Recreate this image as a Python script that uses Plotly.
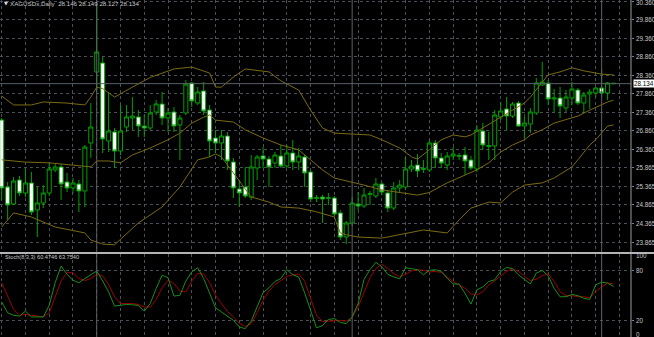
import plotly.graph_objects as go

# ---------------- data ----------------
bar_index = list(range(104))
opens = [27.154,25.348,24.890,25.537,25.187,25.456,24.729,24.917,25.187,25.807,
         25.887,25.483,25.321,25.429,25.241,26.534,28.448,28.690,26.588,26.831,
         26.319,26.965,27.208,27.235,26.992,26.938,27.370,27.585,27.208,27.370,
         27.019,27.343,28.151,27.612,27.936,27.424,26.669,26.534,26.723,26.022,
         25.294,25.348,25.079,25.860,26.184,26.103,25.995,26.184,25.914,26.265,
         26.022,26.157,25.753,25.040,25.079,25.040,25.052,24.648,24.001,24.378,
         24.890,24.836,25.150,25.106,25.429,25.187,24.782,25.321,25.348,25.834,
         25.941,25.820,25.807,26.534,26.130,25.941,26.184,26.175,26.211,26.076,
         25.834,26.857,26.440,26.453,27.235,27.451,27.262,27.612,26.992,27.046,
         27.343,28.097,28.151,27.720,27.747,27.477,27.747,27.963,27.612,27.855,
         27.882,28.016,27.882,28.146]
highs = [27.208,25.483,25.618,25.645,25.860,25.753,25.348,25.402,25.995,25.995,
         25.968,25.726,25.591,25.537,26.480,27.612,30.226,28.852,27.909,26.939,
         27.558,27.558,27.774,27.424,27.289,27.558,27.693,27.909,27.477,27.504,
         27.289,28.232,28.178,28.043,28.178,27.558,26.885,26.885,26.831,26.130,
         25.537,25.888,26.211,26.211,26.426,26.184,26.292,26.480,26.480,26.615,
         26.399,26.211,25.807,25.133,25.133,25.187,25.106,24.729,24.432,25.079,
         25.214,25.321,25.241,25.591,25.483,25.268,25.483,25.537,26.157,26.076,
         26.238,26.076,26.615,26.615,26.265,26.292,26.426,26.265,26.426,26.184,
         27.019,27.073,26.831,27.424,27.639,27.774,27.639,27.666,27.235,27.477,
         28.286,28.717,28.232,27.990,28.043,27.963,28.178,28.016,27.909,27.990,
         28.043,28.528,28.178,28.149]
lows = [24.998,24.459,24.860,25.106,25.080,24.594,24.001,24.780,25.106,25.753,
        24.998,25.214,25.187,24.675,24.809,26.130,27.963,26.265,26.292,25.860,
        26.211,26.831,26.885,26.696,26.696,26.885,27.289,27.019,26.831,26.831,
        26.076,27.289,27.504,27.558,27.289,26.157,26.265,26.076,25.807,25.052,
        24.809,25.052,24.998,25.537,25.860,25.348,25.860,25.860,25.860,25.807,
        25.807,25.348,24.944,24.944,24.378,24.863,24.567,23.920,23.812,24.298,
        24.729,24.782,24.863,25.052,25.133,24.675,24.729,25.214,25.268,25.753,
        25.618,25.726,25.753,25.860,25.860,25.807,26.076,26.076,25.672,25.807,
        25.753,26.346,26.076,26.076,27.154,26.885,27.208,26.965,26.669,26.804,
        27.289,28.070,27.558,27.370,27.208,27.370,27.558,27.558,27.343,27.451,
        27.774,27.774,27.693,28.127]
closes = [25.321,24.863,25.510,25.187,25.456,24.675,24.917,25.187,25.834,25.887,
          25.429,25.321,25.456,25.241,26.426,26.965,28.987,26.642,26.857,26.319,
          26.857,27.235,27.262,26.992,26.938,27.343,27.585,27.208,27.343,26.992,
          27.208,28.124,27.666,27.909,27.397,26.588,26.534,26.723,26.049,25.321,
          25.187,25.106,25.887,26.157,26.103,25.887,26.211,25.914,26.265,26.022,
          26.184,25.726,25.025,25.060,25.025,25.060,24.621,24.001,24.378,24.917,
          24.836,25.133,25.170,25.429,25.214,24.782,25.321,25.402,25.834,25.914,
          25.780,25.850,26.534,26.130,25.995,26.184,26.238,26.195,26.049,25.860,
          26.885,26.480,26.465,27.289,27.397,27.262,27.585,26.992,27.073,27.370,
          28.151,28.178,27.720,27.747,27.531,27.774,27.990,27.612,27.828,27.909,
          28.016,27.882,28.151,28.134]

bb_upper_idx = [0,2,5,7,11,14,15,16,17,19,22,25,29,32,35,36,37,39,41,45,47,50,52,54,56,
                59,62,64,67,69,70,72,74,76,78,79,81,83,86,88,89,91,92,94,96,98,101,103]
bb_upper_val = [27.80,27.56,27.56,27.64,27.61,27.56,27.77,28.04,28.00,27.77,28.04,28.30,
                28.53,28.58,28.42,28.04,28.04,28.31,28.53,28.45,28.21,27.96,27.42,26.94,
                26.80,26.78,26.75,26.62,26.40,26.16,26.10,26.35,26.62,26.75,26.70,26.75,
                26.94,27.15,27.42,27.61,27.77,28.18,28.37,28.45,28.56,28.48,28.39,28.37]

bb_mid_idx = [0,4,8,12,15,16,18,20,22,25,28,30,32,34,35,36,39,41,44,47,50,52,54,56,59,
              61,64,67,70,72,75,78,80,82,84,86,88,89,91,93,96,97,99,102,103]
bb_mid_val = [26.08,26.02,26.00,25.94,25.89,26.05,26.05,26.00,26.21,26.40,26.62,26.80,
              27.07,27.23,27.29,27.15,27.10,26.89,26.67,26.48,26.35,26.08,25.81,25.59,
              25.48,25.40,25.27,25.19,25.13,25.20,25.46,25.67,25.81,26.00,26.29,26.48,
              26.62,26.75,26.89,27.07,27.21,27.26,27.42,27.64,27.69]

bb_low_idx = [0,2,5,9,14,15,17,19,23,27,30,33,35,36,37,39,41,42,45,47,50,53,56,57,58,
              60,64,67,71,75,77,79,82,84,86,88,91,93,96,97,99,100,101,102,103]
bb_low_val = [24.27,24.65,24.54,24.27,24.11,23.92,23.81,23.79,24.38,24.81,25.35,26.08,
              26.16,26.24,26.16,25.73,25.27,25.08,24.94,24.81,24.78,24.68,24.54,24.11,
              24.06,24.00,23.97,24.06,24.19,24.11,24.46,24.78,24.94,24.92,25.21,25.40,
              25.46,25.59,25.89,26.08,26.48,26.62,26.80,26.99,27.02]

stoch_k = [42,29,26,25,31,24,24,24,38,65,85,75,68,65,70,74,79,67,54,37,
           38,39,38.5,38,31,40,58,74,71,49,50,67,78,83,70,53,35,30,25,20,
           12,10,19,36,53,59,66.5,70,80.6,74.5,72,53,31,11,13.6,21,22,17.5,16,24,
           40,69,80.6,89.5,84,75,72,69.7,83,82,80.6,74.5,79.8,80.6,78.5,70.5,63.6,63.3,52.3,39.4,
           56.4,60,66.5,68.5,78.5,83.4,81.8,74.5,69.3,63.6,76.6,79.8,73.3,58.4,48.2,48.2,51,49.5,46.3,45,
           62.4,65.7,64.5,60.47]
stoch_d = [65,48,33,26,27,26,25,24,29,47,67,77,77,70,67.6,70,75,73,63,48,
           40,40,40,39,36,36,45,59,68,64,55,54,67,76,75.5,65,50,40,30.5,24,
           16.5,12.5,16,29,44,55,63,67.5,72.5,74.7,75.4,67,46,26,18.5,18.8,20,19.8,19,23.5,
           36,53,71,82,87,82,76,72,75,79,80.6,79.8,77.8,78.5,77.3,71.8,66.4,62.4,58.4,51.5,
           50.3,54.3,62.4,67.3,73.3,78.5,81.5,78.5,72.5,67.6,69.3,73.3,75.8,66.4,54.3,49.5,49.5,48.2,48.2,47,
           54.3,60,64.5,63.75]

price_ticks = [23.865,24.365,24.865,25.365,25.865,26.360,26.860,27.360,27.860,28.360,
               28.860,29.360,29.860,30.360]
price_tick_text = ["23.865","24.365","24.865","25.365","25.865","26.360","26.860","27.360",
                   "27.860","28.360","28.860","29.360","29.860","30.360"]
stoch_ticks = [0, 20, 80, 100]
stoch_tick_text = ["0", "20", "80", "100"]
separator_bars = [16, 59, 101]
bid_price = 28.134
header_text = "XAGUSDx,Daily  28.146 28.149 28.127 28.134"
stoch_text = "Stoch(8,3,3) 60.4746 63.7540"

# ---------------- style ----------------
GREEN = "#00a000"
BAND = "#7a6a14"
GRID = "#4a5058"
TXT = "#c8c8c8"
FONT = "Liberation Sans"

W, H = 654, 337
R = 23
plot_w = W - R
spacing = 5.94
x0 = -1.7 / spacing
x1 = x0 + plot_w / spacing

P_TOP = 30.388
P_PER_PX = 0.02695
main_bottom = (H - 252.5) / H
stoch_top = (H - 253.5) / H

fig = go.Figure()

for xs, ys in ((bb_upper_idx, bb_upper_val), (bb_mid_idx, bb_mid_val), (bb_low_idx, bb_low_val)):
    fig.add_trace(go.Scatter(x=xs, y=ys, mode="lines", line=dict(color=BAND, width=1),
                             hoverinfo="skip", xaxis="x", yaxis="y"))

fig.add_trace(go.Candlestick(
    x=bar_index, open=opens, high=highs, low=lows, close=closes,
    increasing=dict(line=dict(color=GREEN, width=1), fillcolor="#000000"),
    decreasing=dict(line=dict(color=GREEN, width=1), fillcolor="#ffffff"),
    whiskerwidth=0, xaxis="x", yaxis="y", hoverinfo="skip"))

fig.add_trace(go.Scatter(x=bar_index, y=stoch_d, mode="lines",
                         line=dict(color="#a00000", width=1), hoverinfo="skip",
                         xaxis="x2", yaxis="y2"))
fig.add_trace(go.Scatter(x=bar_index, y=stoch_k, mode="lines",
                         line=dict(color="#17901a", width=1), hoverinfo="skip",
                         xaxis="x2", yaxis="y2"))

grid_ticks = list(range(0, 108, 4))
xcommon = dict(range=[x0, x1], tickvals=grid_ticks, showticklabels=False, ticks="",
               showgrid=True, gridcolor=GRID, griddash="dot", gridwidth=1,
               zeroline=False, showline=False, fixedrange=True)

fig.update_layout(
    width=W, height=H,
    margin=dict(l=0, r=R, t=0, b=0),
    paper_bgcolor="#000000", plot_bgcolor="#000000",
    showlegend=False,
    boxgap=0.32, boxgroupgap=0,
    xaxis=dict(domain=[0, 1], anchor="y", rangeslider=dict(visible=False), **xcommon),
    xaxis2=dict(domain=[0, 1], anchor="y2", **xcommon),
    yaxis=dict(domain=[main_bottom, 1], anchor="x", side="right",
               range=[P_TOP - P_PER_PX * 252.5, P_TOP],
               tickvals=price_ticks, showticklabels=False,
               ticks="outside", ticklen=2, tickcolor="#808080",
               showgrid=True, gridcolor=GRID, griddash="dot", gridwidth=1,
               zeroline=False, showline=False, fixedrange=True),
    yaxis2=dict(domain=[0, stoch_top], anchor="x2", side="right", range=[0, 100],
                tickvals=[20, 80], showticklabels=False,
                ticks="outside", ticklen=2, tickcolor="#808080",
                showgrid=True, gridcolor=GRID, griddash="dot", gridwidth=1,
                zeroline=False, showline=False, fixedrange=True),
)

shapes = []
for b in separator_bars:
    shapes.append(dict(type="line", xref="x", yref="paper", x0=b, x1=b, y0=0, y1=1,
                       line=dict(color="#5c6066", width=1)))
shapes.append(dict(type="line", xref="paper", yref="y", x0=0, x1=1, y0=bid_price, y1=bid_price,
                   line=dict(color="#5a5e66", width=1)))
shapes.append(dict(type="line", xref="paper", yref="paper", x0=1, x1=1, y0=0, y1=1,
                   line=dict(color="#9a9a9a", width=1)))
shapes.append(dict(type="line", xref="paper", yref="paper", x0=0, x1=W / plot_w,
                   y0=(H - 253) / H, y1=(H - 253) / H,
                   line=dict(color="#b4b4b4", width=2)))
fig.update_layout(shapes=shapes)

ann = []
lab_x = 633.5 / plot_w
for v, t in zip(price_ticks, price_tick_text):
    ypix = (P_TOP - v) / P_PER_PX
    ann.append(dict(text=t, xref="paper", yref="paper", x=lab_x, y=1 - max(ypix, 2.5) / H,
                    xanchor="left", yanchor="middle", showarrow=False,
                    font=dict(family=FONT, size=6.3, color=TXT)))
stoch_label_pix = {0: 334.0, 20: 320.0, 80: 270.5, 100: 255.7}
for v, t in zip(stoch_ticks, stoch_tick_text):
    ann.append(dict(text=t, xref="paper", yref="paper", x=lab_x, y=1 - stoch_label_pix[v] / H,
                    xanchor="left", yanchor="middle", showarrow=False,
                    font=dict(family=FONT, size=6.3, color=TXT)))
ann += [
    dict(text="▼", xref="paper", yref="paper", x=1.5 / plot_w, y=1 - 3 / H,
         xanchor="left", yanchor="middle", showarrow=False,
         font=dict(family="DejaVu Sans", size=5, color="#e0e0e0")),
    dict(text=header_text, xref="paper", yref="paper", x=8 / plot_w, y=1 - 3.5 / H,
         xanchor="left", yanchor="middle", showarrow=False,
         font=dict(family=FONT, size=6.2, color=TXT)),
    dict(text=stoch_text, xref="paper", yref="paper", x=2.5 / plot_w, y=(H - 256.5) / H,
         xanchor="left", yanchor="middle", showarrow=False,
         font=dict(family=FONT, size=5.6, color=TXT)),
    dict(text="28.134", xref="paper", yref="y", x=632.5 / plot_w, y=bid_price,
         xanchor="left", yanchor="middle", showarrow=False, bgcolor="#ffffff",
         borderpad=0, font=dict(family=FONT, size=6.3, color="#000000")),
]
fig.update_layout(annotations=ann)

fig.write_html("out.html", config=dict(displayModeBar=False, staticPlot=True))
